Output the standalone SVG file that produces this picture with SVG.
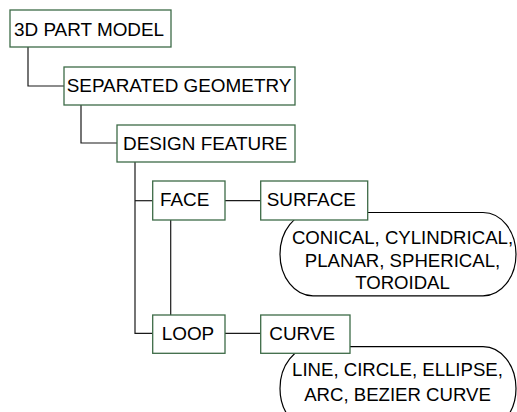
<svg xmlns="http://www.w3.org/2000/svg" width="517" height="412" viewBox="0 0 517 412">
  <style>
    .box { fill: #ffffff; stroke: #3d6b47; stroke-width: 1.3; }
    .pill { fill: #ffffff; stroke: #000000; stroke-width: 1.2; }
    .link { fill: none; stroke: #1a1a1a; stroke-width: 1.2; }
    text { font-family: "Liberation Sans", Arial, sans-serif; font-size: 18.9px; fill: #000000; }
    .mid { text-anchor: middle; font-size: 18.6px; }
  </style>
  <rect width="517" height="412" fill="#ffffff"/>

  <!-- tree connectors -->
  <g id="connectors">
    <path class="link" d="M28 47 V86 H64"/>
    <path class="link" d="M81 105 V143 H117"/>
    <path class="link" d="M135 162 V333.3 H152.7"/>
    <path class="link" d="M135 200.7 H152.7"/>
    <path class="link" d="M170.7 220 V315"/>
    <path class="link" d="M225 200.7 H260.7"/>
    <path class="link" d="M225 333.3 H260.7"/>
  </g>

  <!-- value lists (drawn under the type boxes) -->
  <g id="surface-types">
    <path class="pill" d="M313 212.5 H483 A33 41.7 0 0 1 483 295.9 H313 A33 41.7 0 0 1 313 212.5 Z"/>
    <text class="mid" x="402.5" y="244">CONICAL, CYLINDRICAL,</text>
    <text class="mid" x="402.5" y="267">PLANAR, SPHERICAL,</text>
    <text class="mid" x="402.5" y="288.5">TOROIDAL</text>
  </g>
  <g id="curve-types">
    <path class="pill" d="M313 346.7 H483 A33 41.7 0 0 1 483 430.1 H313 A33 41.7 0 0 1 313 346.7 Z"/>
    <text class="mid" x="397.5" y="375.7">LINE, CIRCLE, ELLIPSE,</text>
    <text class="mid" x="397.5" y="401">ARC, BEZIER CURVE</text>
  </g>

  <g id="part-model">
    <rect class="box" x="10" y="10" width="161" height="37"/>
    <text x="14" y="35.7">3D PART MODEL</text>
  </g>
  <g id="separated-geometry">
    <rect class="box" x="64" y="67" width="231" height="38"/>
    <text x="66.7" y="91.7">SEPARATED GEOMETRY</text>
  </g>
  <g id="design-feature">
    <rect class="box" x="117" y="125" width="178" height="37"/>
    <text x="123" y="150">DESIGN FEATURE</text>
  </g>
  <g id="face">
    <rect class="box" x="152.7" y="181" width="72.3" height="39"/>
    <text x="160" y="205.5">FACE</text>
  </g>
  <g id="surface">
    <rect class="box" x="260.7" y="181" width="107" height="39"/>
    <text x="266.7" y="205.5">SURFACE</text>
  </g>
  <g id="loop">
    <rect class="box" x="152.7" y="315" width="72.3" height="38.3"/>
    <text x="161.7" y="339.5">LOOP</text>
  </g>
  <g id="curve">
    <rect class="box" x="260.7" y="315" width="89.3" height="38.3"/>
    <text x="269.3" y="339.5">CURVE</text>
  </g>
</svg>
